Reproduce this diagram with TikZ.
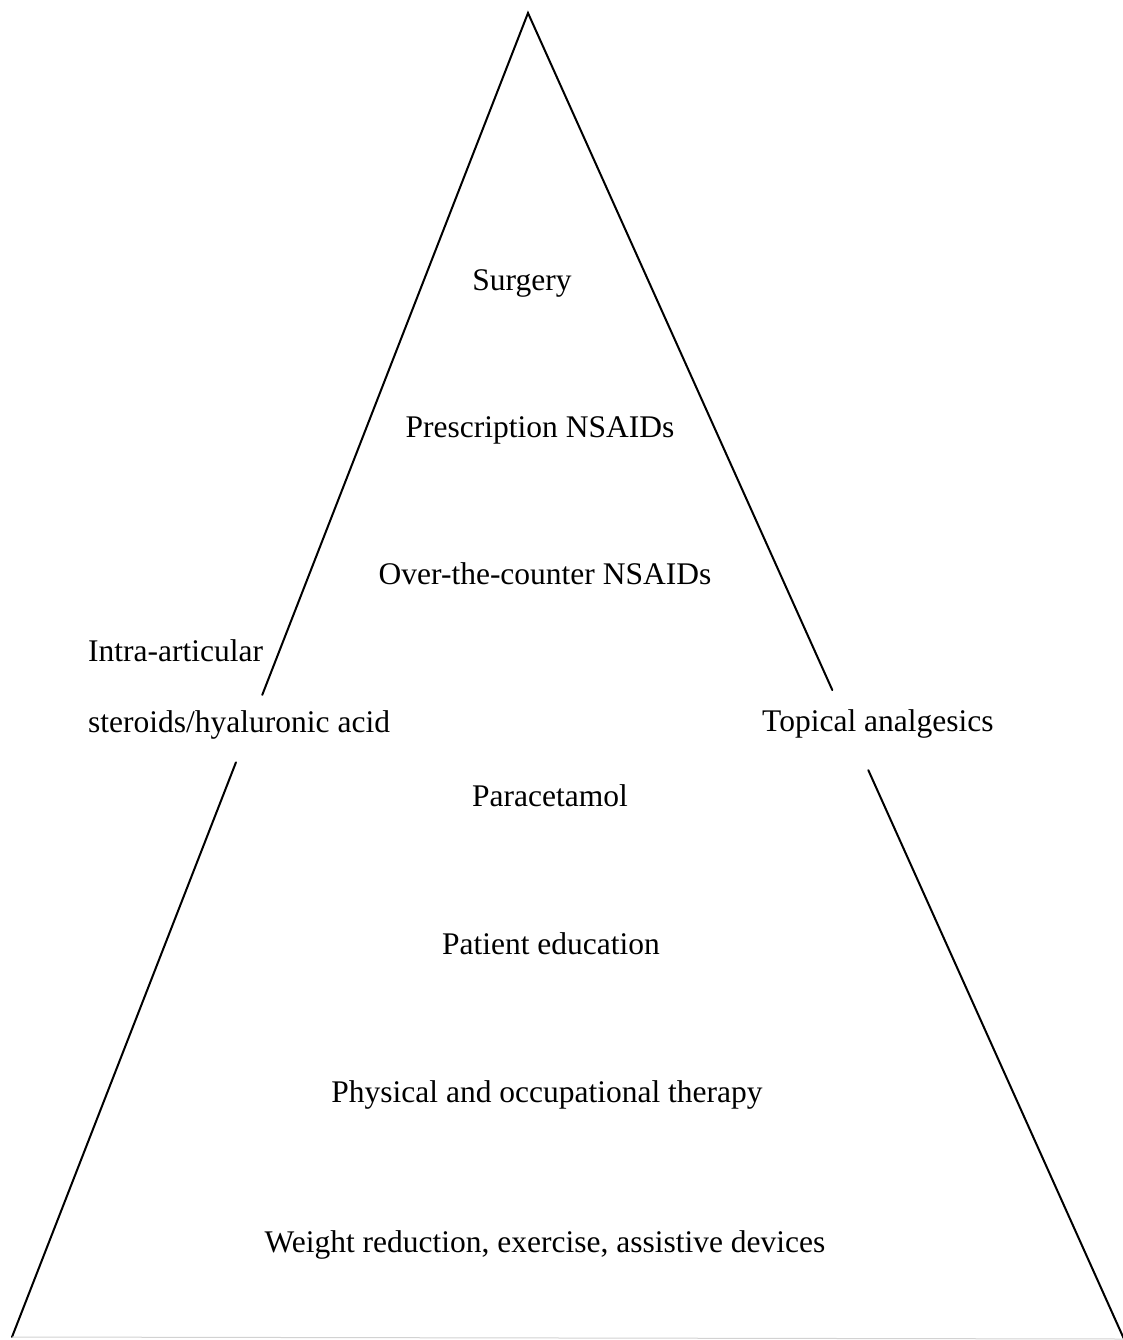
\documentclass[tikz,border=0pt]{standalone}
\usepackage{fontspec}
\setmainfont{Liberation Serif}
\usetikzlibrary{calc}
\begin{document}
\begin{tikzpicture}[x=1pt,y=-1pt,
  edge/.style={line width=2pt,line cap=round},
  lbl/.style={font=\fontsize{31.5}{36}\selectfont,inner sep=0pt,anchor=base},
  lbll/.style={lbl,anchor=base west}]
\useasboundingbox (0,0) rectangle (1123,1340);
\fill[white] (0,0) rectangle (1123,1340);
\coordinate (apex) at (528,13);
\coordinate (bl) at (12,1337);
\coordinate (br) at (1124,1339);
\coordinate (l1) at ($(apex)!0.515!(bl)$);
\coordinate (l2) at ($(apex)!0.566!(bl)$);
\coordinate (r1) at ($(apex)!0.5106!(br)$);
\coordinate (r2) at ($(apex)!0.571!(br)$);
\draw[edge] (l1) -- (apex) -- (r1);
\draw[edge] (l2) -- (bl);
\draw[edge] (r2) -- (br);
\draw[line width=1pt,gray!35] (bl) -- (br);
\node[lbl] (surg) at (522,290) {Surgery};
\node[lbl] (presc) at (540,437) {Prescription NSAIDs};
\node[lbl] (otc) at (545,584) {Over-the-counter NSAIDs};
\node[lbll] (intra) at (88,661) {Intra-articular};
\node[lbll] (ster) at (88,732) {steroids/hyaluronic acid};
\node[lbll] (top) at (762,731) {Topical analgesics};
\node[lbl] (para) at (550,806) {Paracetamol};
\node[lbl] (pat) at (551,954) {Patient education};
\node[lbl] (phys) at (547,1102) {Physical and occupational therapy};
\node[lbl] (weight) at (545,1252) {Weight reduction, exercise, assistive devices};
\end{tikzpicture}
\end{document}
